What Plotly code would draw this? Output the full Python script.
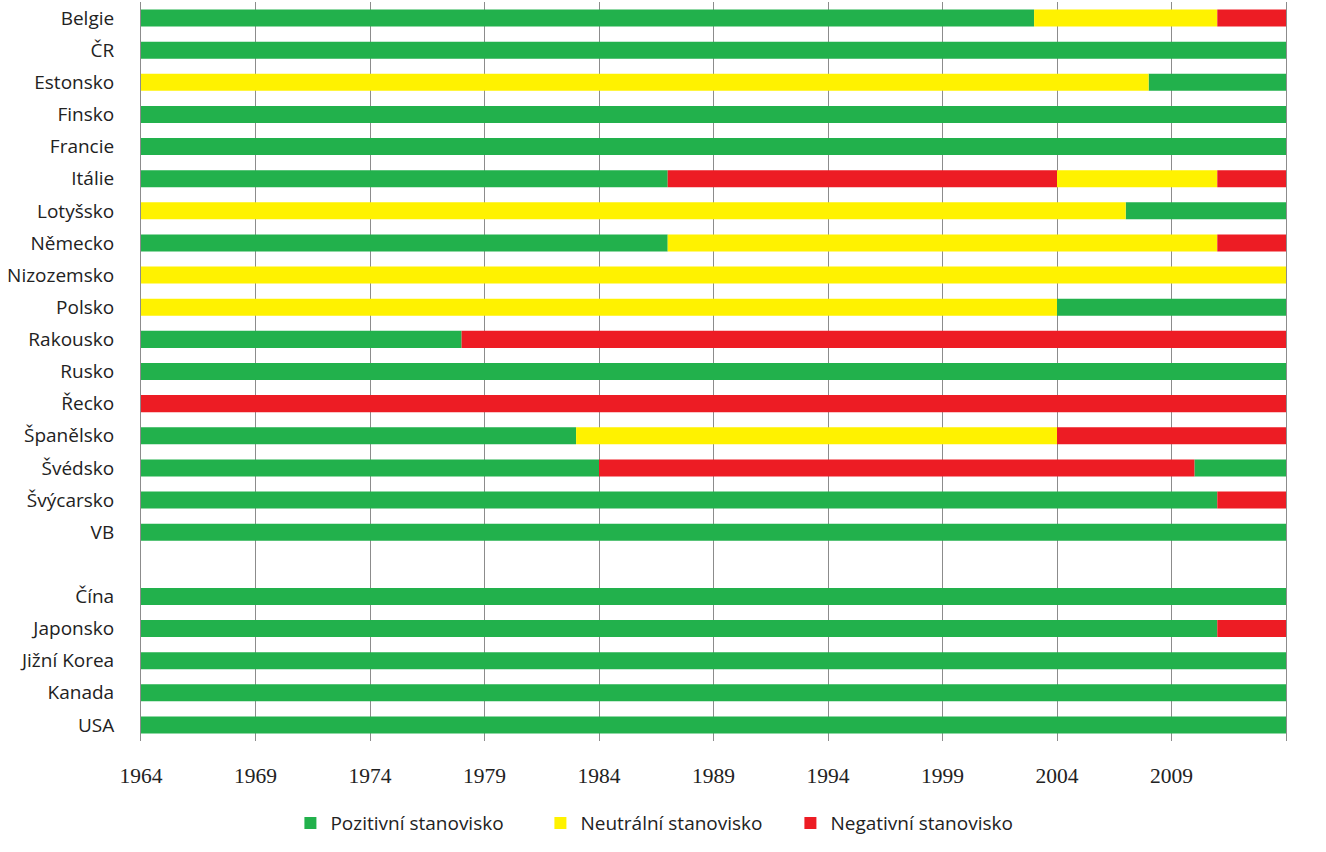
import plotly.graph_objects as go

countries = ["Belgie", "ČR", "Estonsko", "Finsko", "Francie", "Itálie", "Lotyšsko",
             "Německo", "Nizozemsko", "Polsko", "Rakousko", "Rusko", "Řecko",
             "Španělsko", "Švédsko", "Švýcarsko", "VB", " ",
             "Čína", "Japonsko", "Jižní Korea", "Kanada", "USA"]

# breakpoints (years) and stance of each period per country; last period ends at END_YEAR
START_YEAR = 1964
END_YEAR = 2014
breaks = {
    "Belgie":      [1964, 2003, 2011],
    "ČR":          [1964],
    "Estonsko":    [1964, 2008],
    "Finsko":      [1964],
    "Francie":     [1964],
    "Itálie":      [1964, 1987, 2004, 2011],
    "Lotyšsko":    [1964, 2007],
    "Německo":     [1964, 1987, 2011],
    "Nizozemsko":  [1964],
    "Polsko":      [1964, 2004],
    "Rakousko":    [1964, 1978],
    "Rusko":       [1964],
    "Řecko":       [1964],
    "Španělsko":   [1964, 1983, 2004],
    "Švédsko":     [1964, 1984, 2010],
    "Švýcarsko":   [1964, 2011],
    "VB":          [1964],
    "Čína":        [1964],
    "Japonsko":    [1964, 2011],
    "Jižní Korea": [1964],
    "Kanada":      [1964],
    "USA":         [1964],
}
stances = {
    "Belgie":      ["P", "N", "X"],
    "ČR":          ["P"],
    "Estonsko":    ["N", "P"],
    "Finsko":      ["P"],
    "Francie":     ["P"],
    "Itálie":      ["P", "X", "N", "X"],
    "Lotyšsko":    ["N", "P"],
    "Německo":     ["P", "N", "X"],
    "Nizozemsko":  ["N"],
    "Polsko":      ["N", "P"],
    "Rakousko":    ["P", "X"],
    "Rusko":       ["P"],
    "Řecko":       ["X"],
    "Španělsko":   ["P", "N", "X"],
    "Švédsko":     ["P", "X", "P"],
    "Švýcarsko":   ["P", "X"],
    "VB":          ["P"],
    "Čína":        ["P"],
    "Japonsko":    ["P", "X"],
    "Jižní Korea": ["P"],
    "Kanada":      ["P"],
    "USA":         ["P"],
}

series_keys = ["P", "N", "X"]
series_names = ["Pozitivní stanovisko", "Neutrální stanovisko", "Negativní stanovisko"]
series_colors = ["#22B14C", "#FFF200", "#ED1C24"]
tick_years = list(range(1964, 2010, 5))

fig = go.Figure()
for key, name, color in zip(series_keys, series_names, series_colors):
    ys, bases, lens = [], [], []
    for c in countries:
        if c not in breaks:
            continue
        b = breaks[c] + [END_YEAR]
        for i, s in enumerate(stances[c]):
            if s == key:
                ys.append(c)
                bases.append(b[i])
                lens.append(b[i + 1] - b[i])
    fig.add_trace(go.Bar(
        y=ys, x=lens, base=bases, orientation="h", name=name,
        marker=dict(color=color, line=dict(width=0)),
        width=0.53,
    ))

fig.update_layout(
    width=1326, height=852,
    barmode="overlay",
    plot_bgcolor="white", paper_bgcolor="white",
    margin=dict(l=141, r=40, t=2, b=111),
    font=dict(family="Open Sans", size=19, color="#222222"),
    showlegend=True,
    legend=dict(orientation="h", x=0.458, xanchor="center", y=-0.111, yanchor="middle",
                font=dict(family="Open Sans", size=19, color="#222222"),
                itemwidth=30, entrywidth=205, traceorder="normal"),
)
fig.update_xaxes(
    range=[START_YEAR, END_YEAR], tickvals=tick_years, ticktext=[str(y) for y in tick_years],
    showgrid=True, gridcolor="#8c8c8c", gridwidth=1,
    tickfont=dict(family="Liberation Serif", size=21.5, color="#222222"),
    ticks="", ticklabelstandoff=19, zeroline=False, showline=False, automargin=False,
)
fig.update_yaxes(
    type="category", categoryorder="array", categoryarray=countries,
    autorange="reversed",
    tickvals=countries, ticktext=countries,
    showgrid=False, showline=True, mirror=True, linecolor="#8c8c8c", linewidth=1,
    ticks="", ticklabelstandoff=22, automargin=False,
    tickfont=dict(family="Open Sans", size=19, color="#222222"),
)
fig.write_html("out.html", config={"displayModeBar": False},
               post_script="document.body.style.margin='0';")
